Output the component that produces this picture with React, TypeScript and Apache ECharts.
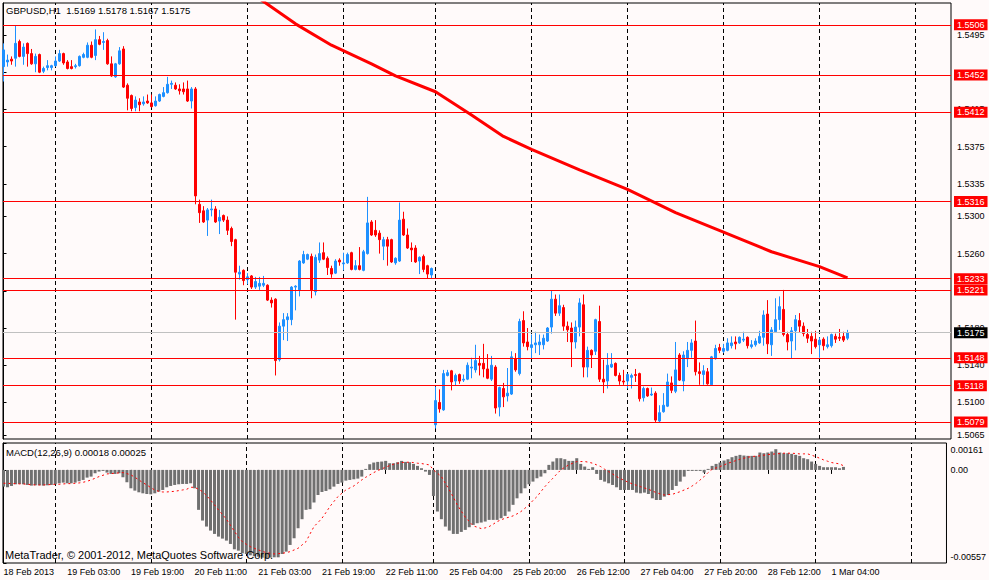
import React, { useEffect, useRef } from "react";
import * as echarts from "echarts";

const symbolName = "GBPUSD";
const timeframe = "H1";

// hourly candles, each as [open, close, low, high]
const candles: number[][] = [
  [1.5461,1.5479,1.5445,1.5486],[1.5466,1.5468,1.5461,1.5474],[1.5469,1.5467,1.5463,1.5472],[1.5470,1.5486,1.5461,1.5505],
  [1.5488,1.5472,1.5471,1.5490],[1.5472,1.5482,1.5463,1.5486],[1.5486,1.5475,1.5461,1.5487],[1.5475,1.5464,1.5463,1.5480],
  [1.5464,1.5472,1.5455,1.5475],[1.5474,1.5455,1.5454,1.5475],[1.5456,1.5459,1.5454,1.5461],[1.5460,1.5462,1.5457,1.5468],
  [1.5460,1.5462,1.5457,1.5463],[1.5462,1.5467,1.5461,1.5472],[1.5467,1.5475,1.5466,1.5479],[1.5475,1.5465,1.5463,1.5476],
  [1.5466,1.5459,1.5458,1.5468],[1.5461,1.5459,1.5458,1.5468],[1.5461,1.5462,1.5459,1.5464],[1.5462,1.5472,1.5461,1.5473],
  [1.5471,1.5474,1.5470,1.5476],[1.5471,1.5484,1.5470,1.5487],[1.5484,1.5471,1.5470,1.5488],[1.5473,1.5490,1.5468,1.5501],
  [1.5490,1.5485,1.5484,1.5494],[1.5487,1.5488,1.5479,1.5498],[1.5489,1.5464,1.5463,1.5491],[1.5464,1.5451,1.5450,1.5472],
  [1.5450,1.5464,1.5449,1.5465],[1.5464,1.5478,1.5463,1.5482],[1.5480,1.5439,1.5438,1.5483],[1.5441,1.5427,1.5414,1.5443],
  [1.5430,1.5416,1.5413,1.5431],[1.5417,1.5425,1.5413,1.5429],[1.5423,1.5420,1.5413,1.5427],[1.5421,1.5423,1.5419,1.5429],
  [1.5424,1.5422,1.5421,1.5431],[1.5422,1.5418,1.5417,1.5431],[1.5419,1.5424,1.5418,1.5429],[1.5424,1.5431,1.5423,1.5432],
  [1.5429,1.5433,1.5428,1.5439],[1.5433,1.5442,1.5432,1.5450],[1.5442,1.5443,1.5437,1.5446],[1.5441,1.5437,1.5436,1.5444],
  [1.5437,1.5435,1.5431,1.5442],[1.5437,1.5434,1.5431,1.5444],[1.5437,1.5424,1.5423,1.5446],[1.5424,1.5437,1.5416,1.5439],
  [1.5437,1.5322,1.5313,1.5439],[1.5313,1.5304,1.5293,1.5318],[1.5306,1.5294,1.5293,1.5311],[1.5296,1.5307,1.5279,1.5309],
  [1.5307,1.5308,1.5300,1.5318],[1.5308,1.5294,1.5293,1.5311],[1.5295,1.5299,1.5281,1.5307],[1.5301,1.5296,1.5294,1.5302],
  [1.5296,1.5285,1.5280,1.5300],[1.5287,1.5273,1.5268,1.5289],[1.5275,1.5240,1.5189,1.5276],[1.5238,1.5240,1.5232,1.5247],
  [1.5242,1.5231,1.5226,1.5243],[1.5232,1.5235,1.5227,1.5239],[1.5236,1.5224,1.5222,1.5237],[1.5224,1.5230,1.5222,1.5235],
  [1.5225,1.5228,1.5221,1.5235],[1.5226,1.5228,1.5224,1.5236],[1.5226,1.5210,1.5209,1.5227],[1.5210,1.5207,1.5202,1.5213],
  [1.5211,1.5145,1.5129,1.5212],[1.5146,1.5182,1.5144,1.5186],[1.5182,1.5189,1.5167,1.5196],[1.5189,1.5192,1.5166,1.5196],
  [1.5189,1.5224,1.5183,1.5225],[1.5224,1.5225,1.5199,1.5226],[1.5221,1.5252,1.5214,1.5253],[1.5250,1.5259,1.5249,1.5263],
  [1.5254,1.5259,1.5253,1.5260],[1.5257,1.5221,1.5212,1.5260],[1.5219,1.5256,1.5215,1.5259],[1.5253,1.5260,1.5250,1.5272],
  [1.5261,1.5254,1.5253,1.5272],[1.5255,1.5245,1.5237,1.5257],[1.5244,1.5238,1.5234,1.5247],[1.5239,1.5252,1.5238,1.5254],
  [1.5253,1.5251,1.5247,1.5255],[1.5249,1.5250,1.5242,1.5261],[1.5250,1.5259,1.5249,1.5261],[1.5261,1.5243,1.5242,1.5262],
  [1.5243,1.5247,1.5242,1.5253],[1.5247,1.5243,1.5242,1.5267],[1.5242,1.5262,1.5241,1.5264],[1.5260,1.5293,1.5259,1.5321],
  [1.5294,1.5280,1.5279,1.5296],[1.5285,1.5280,1.5278,1.5296],[1.5282,1.5275,1.5260,1.5285],[1.5268,1.5275,1.5253,1.5278],
  [1.5275,1.5268,1.5247,1.5278],[1.5275,1.5251,1.5250,1.5276],[1.5250,1.5255,1.5248,1.5256],[1.5252,1.5296,1.5251,1.5315],
  [1.5297,1.5280,1.5279,1.5305],[1.5280,1.5266,1.5265,1.5287],[1.5266,1.5264,1.5251,1.5272],[1.5266,1.5251,1.5250,1.5269],
  [1.5252,1.5256,1.5238,1.5257],[1.5257,1.5243,1.5240,1.5259],[1.5247,1.5238,1.5233,1.5248],[1.5237,1.5244,1.5233,1.5245],
  [1.5076,1.5102,1.5072,1.5117],[1.5100,1.5093,1.5089,1.5114],[1.5092,1.5131,1.5091,1.5135],[1.5129,1.5132,1.5128,1.5135],
  [1.5134,1.5122,1.5113,1.5135],[1.5123,1.5129,1.5118,1.5131],[1.5130,1.5123,1.5120,1.5131],[1.5124,1.5125,1.5122,1.5130],
  [1.5125,1.5140,1.5124,1.5143],[1.5137,1.5138,1.5126,1.5148],[1.5135,1.5145,1.5132,1.5162],[1.5142,1.5140,1.5129,1.5150],
  [1.5142,1.5136,1.5127,1.5163],[1.5136,1.5126,1.5125,1.5152],[1.5125,1.5140,1.5123,1.5150],[1.5138,1.5094,1.5088,1.5140],
  [1.5095,1.5116,1.5085,1.5117],[1.5115,1.5106,1.5095,1.5121],[1.5107,1.5110,1.5101,1.5137],[1.5109,1.5149,1.5108,1.5155],
  [1.5147,1.5135,1.5133,1.5153],[1.5131,1.5187,1.5129,1.5190],[1.5188,1.5164,1.5160,1.5198],[1.5165,1.5160,1.5156,1.5180],
  [1.5159,1.5162,1.5147,1.5173],[1.5162,1.5164,1.5153,1.5176],[1.5162,1.5165,1.5151,1.5173],[1.5162,1.5169,1.5157,1.5173],
  [1.5166,1.5180,1.5165,1.5181],[1.5181,1.5211,1.5174,1.5220],[1.5211,1.5196,1.5193,1.5216],[1.5196,1.5204,1.5193,1.5216],
  [1.5202,1.5182,1.5177,1.5205],[1.5182,1.5178,1.5165,1.5187],[1.5180,1.5165,1.5138,1.5186],[1.5165,1.5181,1.5158,1.5188],
  [1.5181,1.5207,1.5171,1.5212],[1.5205,1.5138,1.5127,1.5216],[1.5138,1.5156,1.5127,1.5160],[1.5156,1.5151,1.5137,1.5157],
  [1.5155,1.5189,1.5151,1.5190],[1.5187,1.5125,1.5122,1.5204],[1.5125,1.5122,1.5110,1.5146],[1.5123,1.5140,1.5115,1.5153],
  [1.5138,1.5141,1.5137,1.5153],[1.5142,1.5129,1.5128,1.5143],[1.5129,1.5123,1.5119,1.5132],[1.5123,1.5122,1.5119,1.5135],
  [1.5123,1.5130,1.5115,1.5131],[1.5127,1.5129,1.5115,1.5131],[1.5130,1.5129,1.5122,1.5136],[1.5131,1.5104,1.5101,1.5132],
  [1.5105,1.5115,1.5101,1.5117],[1.5115,1.5107,1.5106,1.5116],[1.5108,1.5109,1.5107,1.5116],[1.5110,1.5081,1.5079,1.5112],
  [1.5080,1.5089,1.5078,1.5097],[1.5090,1.5097,1.5089,1.5110],[1.5096,1.5122,1.5095,1.5131],[1.5121,1.5113,1.5110,1.5128],
  [1.5112,1.5135,1.5110,1.5165],[1.5151,1.5124,1.5123,1.5153],[1.5123,1.5151,1.5112,1.5155],[1.5147,1.5156,1.5138,1.5165],
  [1.5156,1.5164,1.5148,1.5168],[1.5166,1.5133,1.5129,1.5188],[1.5133,1.5131,1.5119,1.5143],[1.5130,1.5134,1.5119,1.5140],
  [1.5133,1.5120,1.5119,1.5137],[1.5119,1.5149,1.5118,1.5150],[1.5147,1.5158,1.5146,1.5162],[1.5159,1.5156,1.5153,1.5163],
  [1.5155,1.5158,1.5153,1.5163],[1.5156,1.5164,1.5155,1.5169],[1.5161,1.5164,1.5158,1.5171],[1.5165,1.5163,1.5157,1.5171],
  [1.5164,1.5170,1.5163,1.5171],[1.5167,1.5168,1.5165,1.5176],[1.5170,1.5161,1.5158,1.5171],[1.5160,1.5162,1.5158,1.5167],
  [1.5162,1.5166,1.5160,1.5169],[1.5164,1.5171,1.5163,1.5177],[1.5170,1.5194,1.5161,1.5199],[1.5195,1.5163,1.5152,1.5210],
  [1.5162,1.5178,1.5150,1.5181],[1.5176,1.5189,1.5175,1.5212],[1.5189,1.5203,1.5178,1.5214],[1.5200,1.5173,1.5171,1.5221],
  [1.5173,1.5165,1.5156,1.5176],[1.5166,1.5177,1.5147,1.5181],[1.5177,1.5189,1.5156,1.5194],[1.5188,1.5182,1.5175,1.5196],
  [1.5182,1.5174,1.5171,1.5186],[1.5173,1.5169,1.5164,1.5179],[1.5171,1.5166,1.5152,1.5176],[1.5168,1.5160,1.5158,1.5177],
  [1.5162,1.5167,1.5148,1.5170],[1.5168,1.5161,1.5156,1.5170],[1.5160,1.5162,1.5158,1.5171],[1.5161,1.5173,1.5159,1.5174],
  [1.5171,1.5168,1.5164,1.5174],[1.5170,1.5169,1.5166,1.5179],[1.5171,1.5167,1.5165,1.5176],[1.5169,1.5175,1.5167,1.5178],
];

// moving average readings: [bar index, price]
const maPoints: number[][] = [
  [62,1.5540],[66,1.5528],[73,1.5507],[82,1.5484],[92,1.5464],[98,1.5451],[108,1.5434],[117,1.5409],
  [125,1.5386],[132,1.5372],[144,1.5350],[156,1.5329],[168,1.5304],[180,1.5283],[192,1.5262],[204,1.5246],[211,1.5234],
];

// horizontal levels
const levelLines = [1.5506, 1.5452, 1.5412, 1.5316, 1.5233, 1.5221, 1.5148, 1.5118, 1.5079];
// price scale ticks, and the tick labels that are not hidden under a level box
const priceTicks = [1.5495, 1.5455, 1.5415, 1.5375, 1.5335, 1.53, 1.526, 1.522, 1.518, 1.514, 1.51, 1.5065];
const priceLabels = [1.5495, 1.5415, 1.5375, 1.5335, 1.53, 1.526, 1.518, 1.514, 1.51, 1.5065];
const priceMin = 1.50607;
const priceMax = 1.55294;

// MACD(12,26,9)
const macdMain = [
  -0.00100,-0.00104,-0.00096,-0.00086,-0.00084,-0.00086,-0.00090,-0.00094,-0.00092,-0.00092,
  -0.00094,-0.00092,-0.00090,-0.00086,-0.00080,-0.00076,-0.00080,-0.00080,-0.00076,-0.00068,
  -0.00060,-0.00046,-0.00040,-0.00020,-0.00010,-0.00004,-0.00016,-0.00024,-0.00024,-0.00020,
  -0.00044,-0.00074,-0.00110,-0.00124,-0.00134,-0.00140,-0.00144,-0.00146,-0.00140,-0.00130,
  -0.00120,-0.00104,-0.00096,-0.00090,-0.00086,-0.00084,-0.00084,-0.00080,-0.00110,-0.00239,
  -0.00303,-0.00339,-0.00363,-0.00383,-0.00399,-0.00411,-0.00423,-0.00443,-0.00475,-0.00483,
  -0.00499,-0.00503,-0.00511,-0.00515,-0.00519,-0.00525,-0.00529,-0.00525,-0.00523,-0.00523,
  -0.00503,-0.00489,-0.00449,-0.00409,-0.00349,-0.00295,-0.00239,-0.00235,-0.00195,-0.00150,
  -0.00132,-0.00126,-0.00116,-0.00100,-0.00084,-0.00076,-0.00064,-0.00060,-0.00056,-0.00052,
  -0.00040,0.00004,0.00034,0.00044,0.00048,0.00050,0.00054,0.00040,0.00040,0.00046,
  0.00054,0.00048,0.00046,0.00036,0.00024,0.00010,-0.00010,-0.00030,-0.00156,-0.00249,
  -0.00295,-0.00339,-0.00363,-0.00383,-0.00383,-0.00371,-0.00359,-0.00343,-0.00329,-0.00319,
  -0.00315,-0.00309,-0.00299,-0.00299,-0.00299,-0.00289,-0.00275,-0.00249,-0.00209,-0.00170,
  -0.00140,-0.00110,-0.00086,-0.00070,-0.00050,-0.00040,-0.00020,0.00030,0.00050,0.00070,
  0.00070,0.00064,0.00054,0.00054,0.00070,0.00036,0.00020,0.00002,0.00016,-0.00024,
  -0.00060,-0.00070,-0.00080,-0.00090,-0.00104,-0.00120,-0.00120,-0.00120,-0.00120,-0.00136,
  -0.00140,-0.00136,-0.00144,-0.00170,-0.00180,-0.00180,-0.00160,-0.00150,-0.00120,-0.00096,
  -0.00070,-0.00040,-0.00004,-0.00002,-0.00002,-0.00002,-0.00016,0.00004,0.00024,0.00036,
  0.00044,0.00056,0.00064,0.00076,0.00084,0.00090,0.00086,0.00084,0.00084,0.00084,
  0.00104,0.00100,0.00104,0.00110,0.00124,0.00104,0.00100,0.00100,0.00096,0.00090,
  0.00084,0.00070,0.00064,0.00050,0.00036,0.00024,0.00016,0.00016,0.00016,0.00016,
  0.00010,0.00018,
];
const macdSignal = [
  -0.00080,-0.00080,-0.00082,-0.00082,-0.00084,-0.00084,-0.00086,-0.00088,-0.00090,-0.00090,
  -0.00090,-0.00088,-0.00088,-0.00086,-0.00086,-0.00084,-0.00082,-0.00082,-0.00080,-0.00078,
  -0.00074,-0.00068,-0.00060,-0.00050,-0.00040,-0.00032,-0.00024,-0.00022,-0.00020,-0.00018,
  -0.00016,-0.00022,-0.00030,-0.00044,-0.00060,-0.00076,-0.00090,-0.00106,-0.00120,-0.00128,
  -0.00132,-0.00132,-0.00130,-0.00128,-0.00124,-0.00120,-0.00116,-0.00104,-0.00104,-0.00116,
  -0.00130,-0.00154,-0.00180,-0.00209,-0.00239,-0.00267,-0.00295,-0.00331,-0.00367,-0.00403,
  -0.00429,-0.00445,-0.00459,-0.00469,-0.00479,-0.00487,-0.00495,-0.00499,-0.00503,-0.00501,
  -0.00499,-0.00495,-0.00489,-0.00479,-0.00469,-0.00449,-0.00429,-0.00383,-0.00339,-0.00315,
  -0.00289,-0.00255,-0.00219,-0.00189,-0.00160,-0.00140,-0.00120,-0.00108,-0.00096,-0.00078,
  -0.00060,-0.00044,-0.00030,-0.00016,-0.00004,0.00006,0.00016,0.00026,0.00034,0.00040,
  0.00044,0.00046,0.00046,0.00044,0.00040,0.00038,0.00034,0.00030,0.00000,-0.00020,
  -0.00040,-0.00080,-0.00120,-0.00164,-0.00209,-0.00247,-0.00283,-0.00309,-0.00335,-0.00343,
  -0.00351,-0.00347,-0.00339,-0.00325,-0.00309,-0.00299,-0.00289,-0.00283,-0.00275,-0.00263,
  -0.00249,-0.00229,-0.00209,-0.00183,-0.00160,-0.00130,-0.00100,-0.00074,-0.00050,-0.00024,
  0.00000,0.00016,0.00030,0.00040,0.00050,0.00050,0.00050,0.00046,0.00040,0.00030,
  0.00020,0.00004,-0.00010,-0.00024,-0.00040,-0.00052,-0.00064,-0.00074,-0.00084,-0.00092,
  -0.00100,-0.00108,-0.00116,-0.00126,-0.00136,-0.00144,-0.00150,-0.00148,-0.00146,-0.00138,
  -0.00130,-0.00120,-0.00110,-0.00096,-0.00080,-0.00060,-0.00040,-0.00016,0.00004,0.00012,
  0.00020,0.00030,0.00040,0.00048,0.00056,0.00064,0.00070,0.00076,0.00080,0.00082,
  0.00084,0.00088,0.00092,0.00094,0.00096,0.00098,0.00100,0.00100,0.00100,0.00098,
  0.00096,0.00096,0.00096,0.00088,0.00080,0.00070,0.00060,0.00052,0.00044,0.00040,
  0.00036,0.00025,
];
const macdMin = -0.00557;
const macdMax = 0.00161;
const macdTicks = [macdMin, 0, macdMax];

// time axis
const timeLabelBars = [0, 16, 32, 48, 64, 80, 96, 112, 128, 144, 160, 176, 192, 208];
const timeLabels = [
  "18 Feb 2013", "19 Feb 03:00", "19 Feb 19:00", "20 Feb 11:00", "21 Feb 03:00", "21 Feb 19:00", "22 Feb 11:00",
  "25 Feb 04:00", "25 Feb 20:00", "26 Feb 12:00", "27 Feb 04:00", "27 Feb 20:00", "28 Feb 12:00", "1 Mar 04:00",
];
const dayStartBars = [13, 37, 61, 85, 108, 132, 156, 180, 204, 228];
const barSlots = 237;

const copyright = "MetaTrader, \u00A9 2001-2012, MetaQuotes Software Corp.";

const FONT = "Liberation Sans";
const BG = "#FFFAFA";

export default function App() {
  const ref = useRef<HTMLDivElement>(null);

  useEffect(() => {
    if (!ref.current) return;
    const chart = echarts.init(ref.current, undefined, { renderer: "svg" });
    const last = candles[candles.length - 1];
    const lastClose = last[1];
    const xMin = -0.125;
    const xMax = xMin + barSlots;

    const headline =
      symbolName + "," + timeframe + "\u00A0\u00A0" +
      [last[0], last[3], last[2], last[1]].map((v) => v.toFixed(4)).join(" ");
    const macdHead =
      "MACD(12,26,9) " + macdMain[macdMain.length - 1].toFixed(5) + " " + macdSignal[macdSignal.length - 1].toFixed(5);

    const boxLabel = (bg: string) => ({
      show: true,
      position: "end",
      distance: 3,
      formatter: (p: any) => Number(p.value).toFixed(4),
      color: "#FFFFFF",
      backgroundColor: bg,
      padding: [1, 3, 0, 3],
      fontSize: 9,
      lineHeight: 10,
      fontFamily: FONT,
    });

    const levelData: any[] = levelLines.map((v) => ({
      yAxis: v,
      lineStyle: { color: "#FF0000", width: 1, type: "solid" },
      label: boxLabel("#FF0000"),
    }));
    levelData.push({
      yAxis: lastClose,
      lineStyle: { color: "#C0C0C0", width: 1, type: "solid" },
      label: boxLabel("#000000"),
    });

    const dayLines = {
      silent: true,
      symbol: ["none", "none"],
      z: 1,
      precision: 4,
      animation: false,
      label: { show: false },
      lineStyle: { color: "#000000", width: 1, type: [4, 3] },
      data: dayStartBars.map((b) => ({ xAxis: b })),
    };

    const axisText = { fontSize: 9, color: "#000000", fontFamily: FONT };

    chart.setOption({
      animation: false,
      backgroundColor: BG,
      textStyle: { fontFamily: FONT },
      title: [
        { text: headline, left: 6, top: 5, padding: 0, textStyle: { fontSize: 9.5, fontWeight: "normal", color: "#000", fontFamily: FONT } },
        { text: macdHead, left: 6, top: 447, padding: 0, textStyle: { fontSize: 9.5, fontWeight: "normal", color: "#000", fontFamily: FONT } },
        { text: copyright, left: 5, top: 549, padding: 0, textStyle: { fontSize: 11, fontWeight: "normal", color: "#000", fontFamily: FONT } },
      ],
      grid: [
        { left: 3, top: 3, width: 948, height: 436, show: true, borderColor: "#000", borderWidth: 1, backgroundColor: "transparent" },
        { left: 3, top: 443, width: 948, height: 120, show: true, borderColor: "#000", borderWidth: 1, backgroundColor: "transparent" },
      ],
      xAxis: [
        { type: "value", gridIndex: 0, min: xMin, max: xMax, show: false },
        {
          type: "value",
          gridIndex: 1,
          min: xMin,
          max: xMax,
          axisLine: { show: false },
          splitLine: { show: false },
          axisTick: { show: true, customValues: timeLabelBars, length: 4, lineStyle: { color: "#000" } },
          axisLabel: {
            customValues: timeLabelBars,
            formatter: (v: number) => {
              const k = timeLabelBars.indexOf(Math.round(v));
              return k >= 0 ? timeLabels[k] : "";
            },
            align: "left",
            margin: 4,
            ...axisText,
          },
        },
      ],
      yAxis: [
        {
          type: "value",
          gridIndex: 0,
          position: "right",
          min: priceMin,
          max: priceMax,
          splitLine: { show: false },
          axisLine: { show: true, lineStyle: { color: "#000" } },
          axisTick: { show: true, customValues: priceTicks, length: 3, lineStyle: { color: "#000" } },
          axisLabel: { customValues: priceLabels, formatter: (v: number) => v.toFixed(4), margin: 6, ...axisText },
        },
        {
          type: "value",
          gridIndex: 1,
          position: "right",
          min: macdMin,
          max: macdMax,
          splitLine: { show: false },
          axisLine: { show: true, lineStyle: { color: "#000" } },
          axisTick: { show: true, customValues: macdTicks, length: 3, lineStyle: { color: "#000" } },
          axisLabel: {
            customValues: macdTicks,
            margin: 4,
            ...axisText,
            formatter: (v: number) => {
              if (Math.abs(v - macdMax) < 1e-9) return "{t|" + macdMax.toFixed(5) + "}";
              if (Math.abs(v - macdMin) < 1e-9) return "{b|" + macdMin.toFixed(5) + "}";
              return "0.00";
            },
            rich: {
              t: { padding: [14, 0, 0, 0], ...axisText },
              b: { padding: [0, 0, 12, 0], ...axisText },
            },
          },
        },
      ],
      series: [
        {
          type: "candlestick",
          xAxisIndex: 0,
          yAxisIndex: 0,
          barWidth: 2,
          data: candles.map((c, i) => [i, c[0], c[1], c[2], c[3]]),
          itemStyle: {
            color: "#1E90FF",
            color0: "#FF0000",
            borderColor: "#1E90FF",
            borderColor0: "#FF0000",
            borderWidth: 1,
          },
          markLine: {
            silent: true,
            symbol: ["none", "none"],
            z: 5,
            precision: 4,
            animation: false,
            data: levelData,
          },
        },
        {
          type: "line",
          xAxisIndex: 0,
          yAxisIndex: 0,
          data: maPoints,
          showSymbol: false,
          lineStyle: { color: "#FF0000", width: 3 },
          z: 3,
          markLine: dayLines,
        },
        {
          type: "bar",
          xAxisIndex: 1,
          yAxisIndex: 1,
          barWidth: 3,
          barMinHeight: 1,
          data: macdMain.map((v, i) => [i, v]),
          itemStyle: { color: "#707070" },
        },
        {
          type: "line",
          xAxisIndex: 1,
          yAxisIndex: 1,
          data: macdSignal.map((v, i) => [i, v]),
          showSymbol: false,
          lineStyle: { color: "#FF0000", width: 1, type: [2, 3] },
          z: 3,
          markLine: dayLines,
        },
      ],
    });

    return () => chart.dispose();
  }, []);

  return (
    <div
      ref={ref}
      style={{ position: "fixed", left: 0, top: 0, width: 989, height: 580, background: BG }}
    />
  );
}
